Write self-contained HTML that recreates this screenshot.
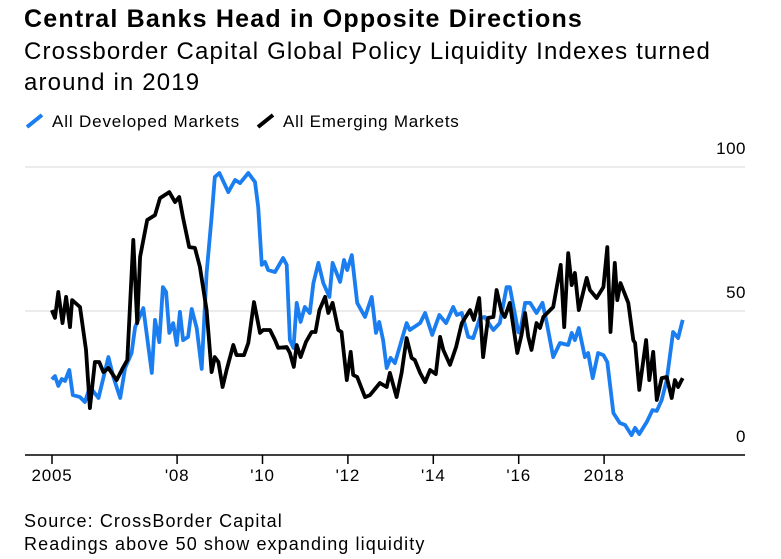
<!DOCTYPE html>
<html><head><meta charset="utf-8"><style>
body{margin:0;background:#fff;font-family:"Liberation Sans",sans-serif;}
#w{position:relative;width:781px;height:559px;overflow:hidden;}
.t{position:absolute;white-space:nowrap;color:#000;}
</style></head><body><div id="w">
<div class="t" style="left:24px;top:5px;font-size:25px;font-weight:bold;letter-spacing:1.2px">Central Banks Head in Opposite Directions</div>
<div class="t" style="left:24px;top:36px;font-size:24px;line-height:31px;letter-spacing:1.15px;white-space:normal;width:730px">Crossborder Capital Global Policy Liquidity Indexes turned around in 2019</div>
<div class="t" style="left:24px;top:112px;font-size:17px;letter-spacing:0.85px"><svg width="28" height="18" style="vertical-align:-3px"><line x1="3" y1="15" x2="18" y2="3" stroke="#1a7ef0" stroke-width="4"/></svg>All Developed Markets</div>
<div class="t" style="left:255px;top:112px;font-size:17px;letter-spacing:0.75px"><svg width="28" height="18" style="vertical-align:-3px"><line x1="3" y1="15" x2="18" y2="3" stroke="#000" stroke-width="4"/></svg>All Emerging Markets</div>
<svg id="c" width="781" height="559" style="position:absolute;left:0;top:0"></svg>
<div class="t" style="left:24px;top:510px;font-size:18px;line-height:23px;letter-spacing:1.1px">Source: CrossBorder Capital<br>Readings above 50 show expanding liquidity</div>
</div>
<script>
const yTicks=[0,50,100];
const xTickYears=[2005,2008,2010,2012,2014,2016,2018];
const xTickLabels=["2005","'08","'10","'12","'14","'16","2018"];
// months since Jan 2005
const devMonths=[0.8,1.7,2.6,3.6,4.5,5.7,6.7,8.7,10.1,11.5,13.9,16.7,18.1,20.0,21.4,23.2,24.2,26.5,28.9,29.8,31.0,32.0,32.9,33.8,34.9,35.9,36.8,37.7,39.1,40.1,41.5,42.9,44.3,45.7,46.6,47.9,50.4,52.3,53.7,56.0,57.9,58.8,59.8,60.7,61.6,63.5,65.8,66.8,67.7,68.7,69.6,70.7,71.9,73.3,74.3,75.7,77.1,78.8,79.7,81.8,82.9,83.8,85.1,86.6,88.8,90.7,91.9,92.8,93.9,94.9,96.0,97.2,100.5,101.4,104.3,105.7,107.7,109.7,111.6,113.6,114.6,116.0,117.8,119.2,121.1,122.5,123.9,124.9,126.7,128.6,129.5,131.9,132.4,133.8,135.2,137.0,138.7,139.9,141.7,143.6,145.9,146.9,147.8,148.9,150.6,151.5,152.8,154.3,155.8,156.9,158.6,160.4,161.9,163.7,164.7,165.9,168.0,169.6,170.8,172.2,173.6,175.4,176.8,178.1];
const devValues=[26.3,27.4,24.0,26.4,25.7,29.5,20.8,20.1,18.4,23.6,19.8,34.0,27.1,19.8,30.2,35.4,44.4,51.0,28.5,46.9,39.2,58.3,56.6,42.4,45.8,38.2,49.7,39.9,41.0,50.7,44.1,29.9,63.2,82.6,96.5,97.9,91.3,95.5,94.4,97.9,94.8,86.1,66.0,67.0,64.2,63.5,68.4,66.0,39.9,37.2,52.8,46.2,51.4,49.3,59.7,66.7,59.7,54.9,66.7,60.1,67.7,64.2,69.4,52.8,47.9,54.9,42.4,46.2,39.9,30.2,33.7,31.9,45.8,43.4,45.8,49.3,41.7,48.6,45.8,51.4,48.6,49.3,41.0,40.6,47.6,47.9,45.1,43.4,45.8,58.3,58.3,42.7,42.4,52.8,52.8,49.3,52.8,45.8,34.0,38.9,38.2,42.4,39.9,44.1,34.0,35.4,26.7,35.4,34.7,32.3,14.6,11.1,10.4,6.9,9.4,7.3,11.5,15.6,15.3,19.1,26.0,42.7,40.6,46.9];
const emMonths=[0.8,1.7,2.6,3.8,4.8,5.9,6.5,8.7,10.4,11.5,12.9,14.1,15.3,16.7,19.0,20.9,22.0,23.7,24.8,25.6,27.6,29.8,31.2,33.8,35.4,36.6,37.7,39.4,41.0,42.4,44.3,45.7,46.6,47.6,48.8,49.9,51.8,52.7,54.8,56.0,57.6,59.3,60.2,62.1,63.5,64.4,66.8,67.7,68.8,69.6,70.7,72.2,73.8,74.9,76.0,77.6,78.5,79.7,81.3,82.2,83.7,84.8,85.5,86.6,88.8,90.2,93.0,94.9,95.8,97.7,99.1,100.5,101.9,102.8,104.3,105.7,107.1,108.7,109.9,110.8,112.7,114.4,116.0,118.3,119.4,120.9,122.0,123.4,124.9,125.8,127.2,128.1,129.5,131.6,132.8,133.8,134.7,135.6,137.0,138.0,138.9,141.7,143.8,144.8,145.9,146.9,147.8,148.9,151.1,152.0,153.9,155.8,156.9,157.8,159.0,159.7,160.6,162.8,164.2,164.7,165.9,167.8,168.7,169.8,170.8,172.2,173.6,175.0,175.9,176.8,178.1];
const emValues=[50.3,47.6,56.6,45.8,54.9,44.4,53.8,51.4,36.5,16.3,32.3,32.3,28.8,30.2,26.0,30.6,33.0,74.7,45.8,68.8,81.6,83.3,89.2,91.3,87.8,89.6,82.3,72.2,71.9,65.3,50.3,28.8,34.0,32.3,23.6,29.5,38.2,34.7,34.7,38.9,53.1,42.4,43.4,43.4,39.9,37.2,37.5,35.4,30.6,38.2,34.0,39.2,42.7,42.7,50.3,54.9,49.3,52.8,43.4,42.7,26.0,35.8,27.8,27.1,20.1,20.8,25.0,23.6,28.5,20.1,28.5,40.6,33.7,33.0,28.5,25.3,29.5,28.1,41.0,36.5,31.3,37.5,45.8,50.3,46.9,54.5,34.0,47.6,47.9,57.3,49.7,47.9,52.8,35.4,41.7,49.3,41.0,36.5,45.8,44.1,47.9,51.4,66.0,44.4,70.1,59.0,63.2,50.3,61.5,57.3,54.5,58.3,72.2,42.7,66.7,53.8,59.7,52.8,39.9,38.9,22.6,39.9,26.0,35.8,19.1,26.7,27.1,19.8,26.0,23.6,26.7];

const NS='http://www.w3.org/2000/svg';
const svg=document.getElementById('c');
const x=m=>49+m*42.7/12;
const y=v=>455-v*2.88;
function mk(t,a){const e=document.createElementNS(NS,t);for(const k in a)e.setAttribute(k,a[k]);svg.appendChild(e);return e;}
yTicks.forEach(v=>{
  if(v>0){const g=mk('line',{x1:25,x2:745,y1:y(v),y2:y(v),stroke:'#e6e6e6','stroke-width':1.5});
  
  }
  const t=mk('text',{x:746,y:y(v)-13,'text-anchor':'end','font-size':17,'letter-spacing':0.5,'font-family':'Liberation Sans, sans-serif',fill:'#000'});
  t.textContent=v;
  
  
});
const ax=mk('line',{x1:25,x2:745,y1:455,y2:455,stroke:'#000','stroke-width':1.5});


xTickYears.forEach((yr,i)=>{
  const xx=x((yr-2005)*12)+(i==0?3:0);
  const tk=mk('line',{x1:xx,x2:xx,y1:455,y2:464,stroke:'#000','stroke-width':1.5});
  
  
  const t=mk('text',{x:xx,y:481,'text-anchor':'middle','font-size':17,'letter-spacing':0.8,'font-family':'Liberation Sans, sans-serif',fill:'#000'});
  t.textContent=xTickLabels[i];
  
  
});
function line(ms,vs,col,name){
  const d=ms.map((m,i)=>(i?'L':'M')+x(m).toFixed(1)+','+y(vs[i]).toFixed(1)).join('');
  const p=mk('path',{d:d,fill:'none',stroke:col,'stroke-width':3.8,'stroke-linejoin':'round'});
  
  
}
line(devMonths,devValues,'#1a7ef0','developed-markets-line');
line(emMonths,emValues,'#000','emerging-markets-line');
</script></body></html>
